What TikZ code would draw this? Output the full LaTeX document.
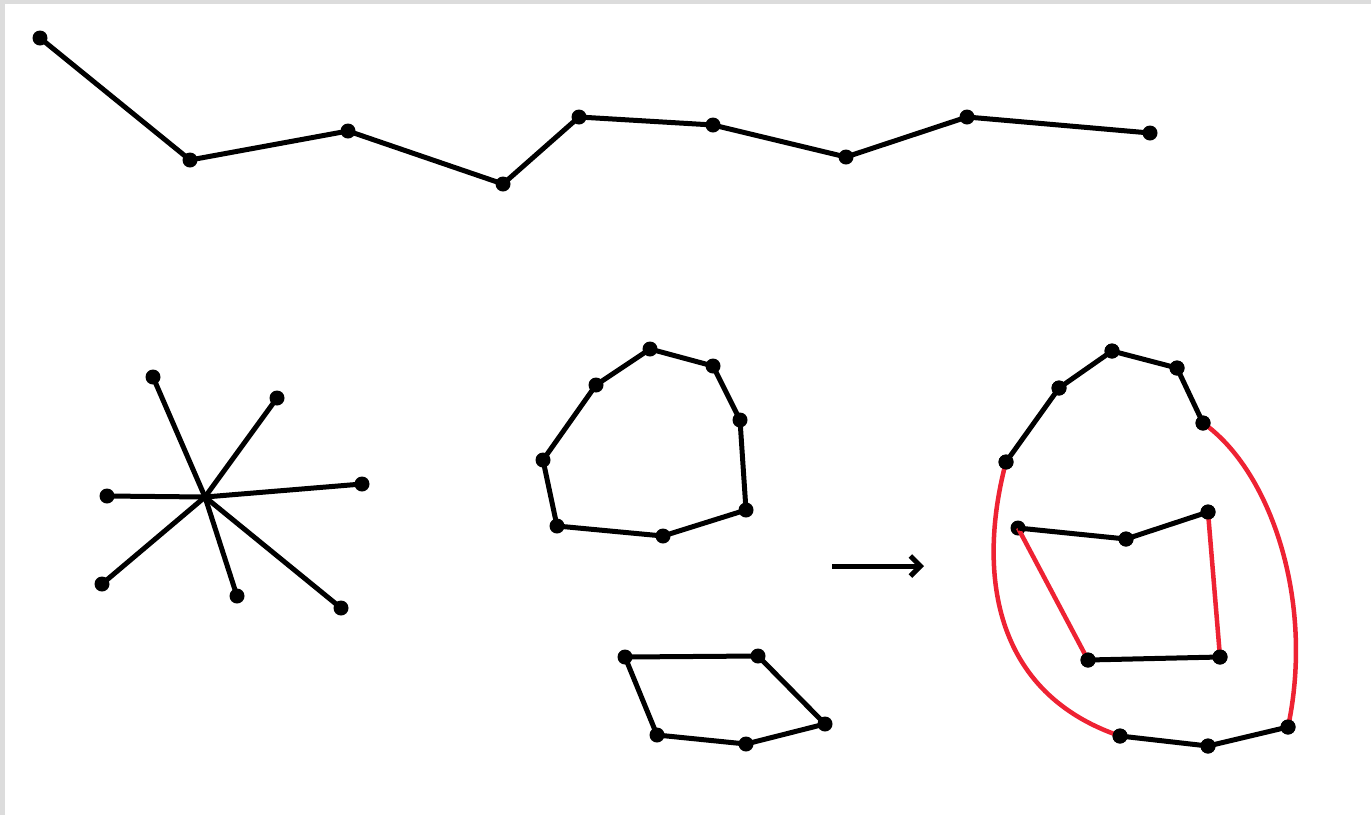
\documentclass[tikz,border=0pt]{standalone}
\usetikzlibrary{arrows.meta}
\definecolor{framegray}{HTML}{DCDCDC}
\definecolor{redline}{HTML}{EE2233}
\tikzset{
  dot/.style={circle,fill=black,inner sep=0pt,minimum size=15pt},
  edge/.style={line width=5pt,black,line join=round},
  redge/.style={line width=4.5pt,redline},
}
\begin{document}
\begin{tikzpicture}[x=1pt,y=-1pt]
\fill[framegray] (0,0) rectangle (1371,815);
\fill[white] (5,4) rectangle (1371,815);
\useasboundingbox (0,0) rectangle (1371,815);
% top polyline
\foreach \n/\x/\y in {t1/40/38,t2/190/160,t3/348/131,t4/503/184,t5/579/117,t6/713/125,t7/846/157,t8/967/117,t9/1150/133}
  \node[dot] (\n) at (\x,\y) {};
\draw[edge] (t1.center)--(t2.center)--(t3.center)--(t4.center)--(t5.center)--(t6.center)--(t7.center)--(t8.center)--(t9.center);
% star
\coordinate (sc) at (205,497);
\foreach \n/\x/\y in {s1/153/377,s2/277/398,s3/362/484,s4/341/608,s5/237/596,s6/102/584,s7/107/496}
  \node[dot] (\n) at (\x,\y) {};
\foreach \n in {s1,s2,s3,s4,s5,s6,s7}
  \draw[edge] (sc)--(\n.center);
% polygon 1
\foreach \n/\x/\y in {p1/650/349,p2/713/366,p3/740/420,p4/746/510,p5/663/536,p6/557/526,p7/543/460,p8/596/385}
  \node[dot] (\n) at (\x,\y) {};
\draw[edge] (p1.center)--(p2.center)--(p3.center)--(p4.center)--(p5.center)--(p6.center)--(p7.center)--(p8.center)--cycle;
% polygon 2
\foreach \n/\x/\y in {q1/625/657,q2/758/656,q3/825/724,q4/746/744,q5/657/735}
  \node[dot] (\n) at (\x,\y) {};
\draw[edge] (q1.center)--(q2.center)--(q3.center)--(q4.center)--(q5.center)--cycle;
% arrow
\coordinate (a1) at (832,566);
\coordinate (a2) at (924,566);
\draw[line width=5pt,-{Straight Barb[length=10pt,width=20pt,line width=5pt]}] (a1)--(a2);
% right figure
\foreach \n/\x/\y in {r1/1006/462,r2/1059/388,r3/1112/351,r4/1177/368,r5/1203/423,b1/1120/736,b2/1208/746,b3/1288/727,i1/1018/528,i2/1126/539,i3/1208/512,j1/1088/660,j2/1220/657}
  \node[dot] (\n) at (\x,\y) {};
\draw[redge] (r1.center) .. controls (980,560) and (985,690) .. (b1.center);
\draw[redge] (r5.center) .. controls (1270,470) and (1315,600) .. (b3.center);
\draw[redge] (i1.center)--(j1.center);
\draw[redge] (i3.center)--(j2.center);
\draw[edge] (r1.center)--(r2.center)--(r3.center)--(r4.center)--(r5.center);
\draw[edge] (b1.center)--(b2.center)--(b3.center);
\draw[edge] (i1.center)--(i2.center)--(i3.center);
\draw[edge] (j1.center)--(j2.center);
\foreach \n in {r1,r2,r3,r4,r5,b1,b2,b3,i2,i3,j1,j2}
  \node[dot] at (\n) {};
\end{tikzpicture}
\end{document}
